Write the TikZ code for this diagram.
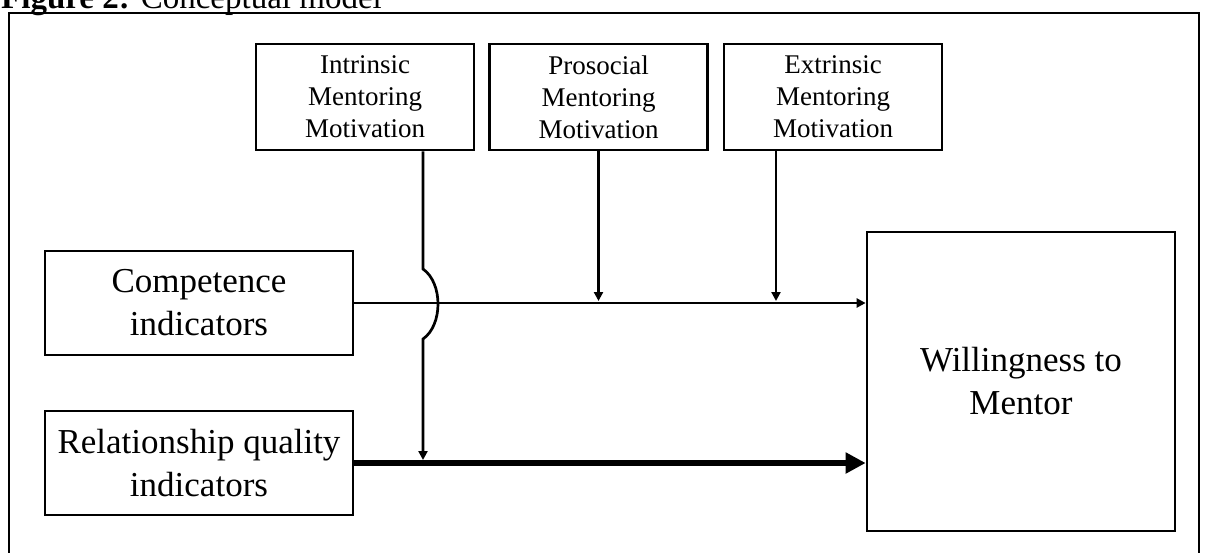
\documentclass[tikz,border=0pt]{standalone}
\usepackage{fontspec}
\setmainfont{Liberation Serif}
\usetikzlibrary{arrows.meta,positioning}
\tikzstyle{arrow} = [line width=2.7pt,-{Triangle[length=9pt,width=9pt]}]
\tikzstyle{bigarrow} = [line width=6pt,-{Triangle[length=20pt,width=20pt]}]
\tikzstyle{mbox} = [draw,line width=2.7pt,align=center,inner sep=0pt]

\begin{document}
\begin{tikzpicture}[
    x=1pt, y=-1pt,
    topbox/.style={mbox,minimum width=218pt,minimum height=106pt,font=\fontsize{27}{32}\selectfont},
    sidebox/.style={mbox,minimum width=308pt,minimum height=104pt,font=\fontsize{35}{43}\selectfont}
]
\useasboundingbox (0,0) rectangle (1209,552);
% 标题和外框
\node[anchor=base west,inner sep=0pt,font=\fontsize{33}{40}\selectfont] (title) at (1,8)
    {\textbf{Figure 2:} Conceptual model};
\draw[line width=2pt] (9,580) -- (9,13) -- (1199,13) -- (1199,580);
% 方框
\node[topbox] (intr) at (365,97) {Intrinsic\\Mentoring\\Motivation};
\node[topbox] (pros) at (598.5,97) {Prosocial\\Mentoring\\Motivation};
\node[topbox] (extr) at (833,97) {Extrinsic\\Mentoring\\Motivation};
\node[sidebox] (comp) at (199,303) {Competence\\indicators};
\node[sidebox] (rel) at (199,463) {Relationship quality\\indicators};
\node[mbox,minimum width=308pt,minimum height=299pt,font=\fontsize{35}{43}\selectfont]
    (will) at (1021,381.5) {Willingness to\\Mentor};
% 箭头
\coordinate (ix) at (423,0);
\coordinate (ij) at (423,460);
\coordinate (pj) at (598.5,301);
\coordinate (ej) at (776,301);
\draw[arrow] (comp.east) -- (will.west |- comp.east);
\draw[bigarrow] (rel.east) -- (will.west |- rel.east);
\draw[arrow] (intr.south -| ix) -- (423,269)
    .. controls (443,283) and (443,325) .. (423,339) -- (ij);
\draw[arrow] (pros.south) -- (pj);
\draw[arrow] (extr.south -| ej) -- (ej);
\end{tikzpicture}
\end{document}
